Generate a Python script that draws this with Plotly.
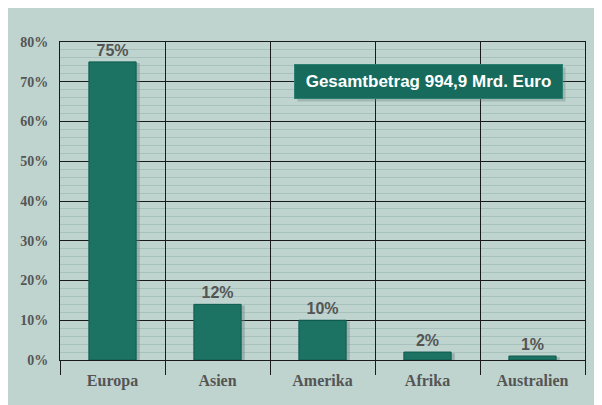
import plotly.graph_objects as go

categories = ["Europa", "Asien", "Amerika", "Afrika", "Australien"]
values = [75, 14, 10, 2, 1]
labels = ["75%", "12%", "10%", "2%", "1%"]
y_ticks = [0, 10, 20, 30, 40, 50, 60, 70, 80]
y_ticklabels = [f"{v}%" for v in y_ticks]
total_text = "Gesamtbetrag 994,9 Mrd. Euro"

PANEL = "#bfd4cf"
BAR = "#1c7263"
SHADOW = "rgba(110,135,130,0.45)"
GREY = "#555555"

fig = go.Figure()

# shadow bars
fig.add_trace(go.Bar(
    x=categories, y=[v + 0.6 for v in values], base=-0.9,
    width=0.45, offset=-0.225 + 0.035,
    marker=dict(color=SHADOW, line=dict(width=0)),
    hoverinfo="skip", showlegend=False,
))
# main bars
fig.add_trace(go.Bar(
    x=categories, y=values,
    width=0.45, offset=-0.225,
    marker=dict(color=BAR, line=dict(color="#0e5c4f", width=1)),
    text=labels, textposition="outside", cliponaxis=False,
    textfont=dict(family="Liberation Sans", size=16, color=GREY, weight="bold"),
    showlegend=False,
))

fig.update_layout(
    width=594, height=397,
    margin=dict(l=52, r=17, t=34, b=45, autoexpand=False),
    paper_bgcolor=PANEL,
    plot_bgcolor=PANEL,
    barmode="overlay",
    annotations=[
        dict(
            text=" ", xref="paper", yref="paper",
            x=0.702, y=0.876, xanchor="center", yanchor="middle", showarrow=False,
            xshift=3, yshift=-3,
            bgcolor="rgba(100,125,120,0.35)", width=265, height=31,
            font=dict(family="Liberation Sans", size=17),
        ),
        dict(
            text=total_text, xref="paper", yref="paper",
            x=0.702, y=0.876, xanchor="center", yanchor="middle", showarrow=False,
            bgcolor="#166b5d", bordercolor="#2d7f71", borderwidth=1,
            width=265, height=31,
            font=dict(family="Liberation Sans", size=17, color="white", weight="bold"),
        ),
    ],
    xaxis=dict(
        type="category", automargin=False,
        tickson="boundaries",
        showgrid=True, gridcolor="#1a1a1a", gridwidth=1,
        ticks="outside", ticklen=14, tickcolor="#1a1a1a", tickwidth=1,
        showline=True, linecolor="#1a1a1a", linewidth=1, mirror=True,
        tickfont=dict(family="Liberation Serif", size=16, color=GREY, weight="bold"),
        ticklabelstandoff=6,
    ),
    yaxis=dict(
        range=[0, 80], automargin=False,
        tickvals=y_ticks, ticktext=y_ticklabels,
        showgrid=True, gridcolor="#1a1a1a", gridwidth=1,
        showline=True, linecolor="#1a1a1a", linewidth=1, mirror=True,
        ticks="", zeroline=False,
        tickfont=dict(family="Liberation Serif", size=14, color=GREY, weight="bold"),
        ticklabelstandoff=8,
        minor=dict(dtick=2, tick0=0, showgrid=True, gridcolor="#a7c2bd", gridwidth=1),
    ),
)

fig.write_html("out.html")
